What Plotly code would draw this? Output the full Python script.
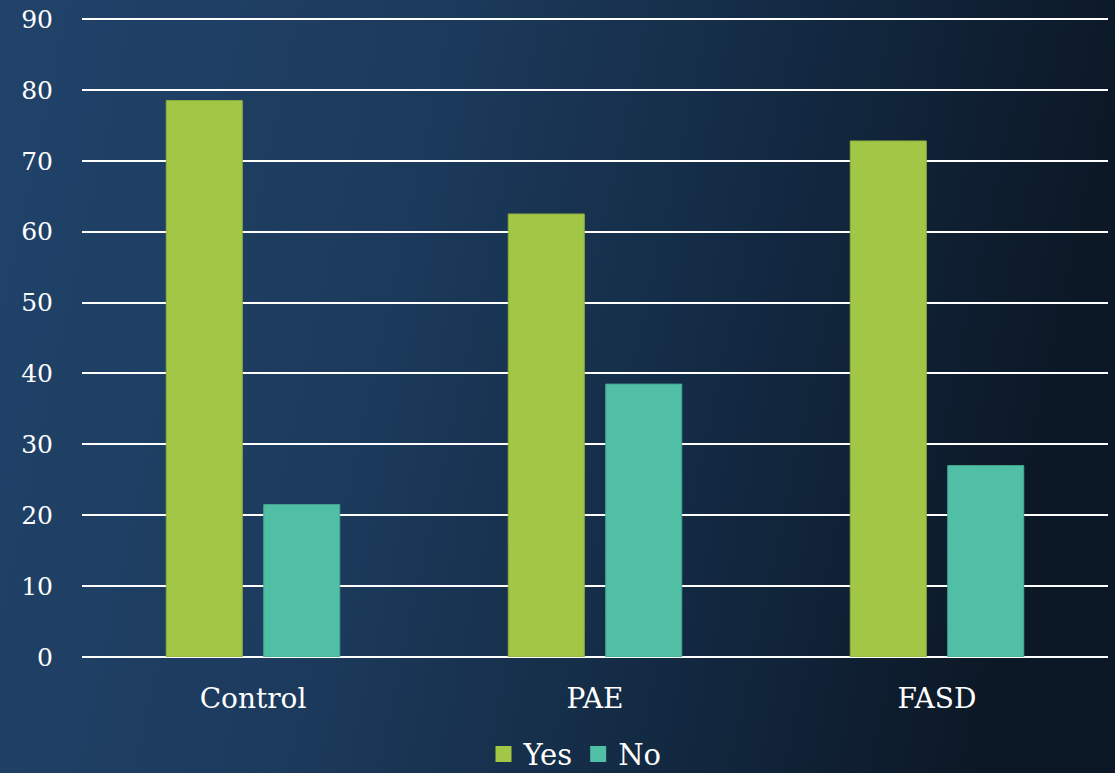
import base64
import plotly.graph_objects as go

categories = ["Control", "PAE", "FASD"]
yes_values = [78.5, 62.5, 72.8]
no_values = [21.5, 38.5, 27.0]
y_ticks = [0, 10, 20, 30, 40, 50, 60, 70, 80, 90]

GREEN = "#A2C646"
TEAL = "#50BFA5"
FONT = "DejaVu Serif"

svg = (
    '<svg xmlns="http://www.w3.org/2000/svg" width="1115" height="773">'
    '<defs><linearGradient id="g" x1="0" y1="0" x2="1" y2="0.15">'
    '<stop offset="0" stop-color="#21436a"/>'
    '<stop offset="0.4" stop-color="#1c3a5c"/>'
    '<stop offset="0.7" stop-color="#132a43"/>'
    '<stop offset="1" stop-color="#0c1826"/>'
    '</linearGradient></defs>'
    '<rect width="1115" height="773" fill="url(#g)"/></svg>'
)
bg_src = "data:image/svg+xml;base64," + base64.b64encode(svg.encode()).decode()

fig = go.Figure()
fig.add_trace(go.Bar(x=categories, y=yes_values, name="Yes", marker=dict(color=GREEN, line=dict(color="#8fb03c", width=1)), showlegend=False))
fig.add_trace(go.Bar(x=categories, y=no_values, name="No", marker=dict(color=TEAL, line=dict(color="#46a892", width=1)), showlegend=False))
# legend proxies
fig.add_trace(go.Scatter(x=[None], y=[None], mode="markers", name="Yes", marker=dict(symbol="square", size=19, color=GREEN)))
fig.add_trace(go.Scatter(x=[None], y=[None], mode="markers", name="No", marker=dict(symbol="square", size=19, color=TEAL)))

fig.update_layout(
    width=1115, height=773,
    margin=dict(l=82, r=7, t=18, b=116, autoexpand=False),
    paper_bgcolor="#17324f",
    plot_bgcolor="rgba(0,0,0,0)",
    barmode="group",
    bargap=0.43,
    bargroupgap=0.22,
    font=dict(family=FONT, color="white", size=24),
    images=[dict(source=bg_src, xref="paper", yref="paper", x=-82/1026, y=1 + 18/639,
                 sizex=1115/1026, sizey=773/639, xanchor="left", yanchor="top",
                 sizing="stretch", layer="below")],
    xaxis=dict(showgrid=False, showline=False, zeroline=False, ticks="",
               tickfont=dict(size=28, family=FONT, color="white"), ticklabelstandoff=22),
    yaxis=dict(range=[0, 90.15], tickvals=y_ticks, showgrid=True, gridcolor="white", gridwidth=2,
               zeroline=True, zerolinecolor="white", zerolinewidth=2, showline=False, ticks="",
               tickfont=dict(size=25, family=FONT, color="white"), ticklabelstandoff=28),
    legend=dict(orientation="h", x=0.4805, xanchor="center", y=-0.152, yanchor="middle",
                font=dict(size=29, family=FONT, color="white"), itemwidth=30,
                bgcolor="rgba(0,0,0,0)", tracegroupgap=0),
    showlegend=True,
)

fig.write_html("out.html")
